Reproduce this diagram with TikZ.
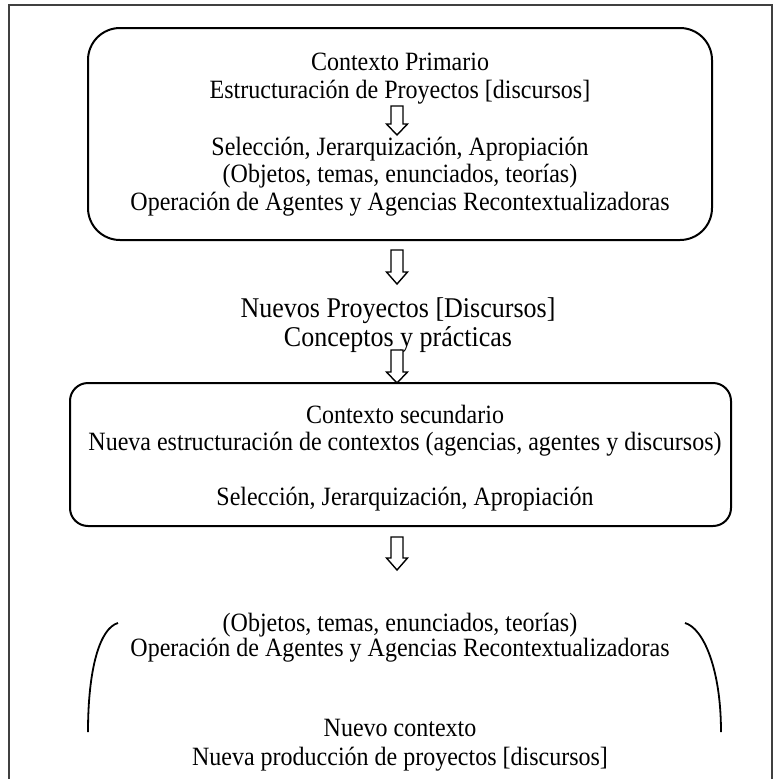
\documentclass[tikz,border=0pt]{standalone}
\usepackage{fontspec}
\setmainfont{Liberation Serif}
\newcommand{\tall}[1]{\scalebox{1}[1.1]{#1}}
\begin{document}
\begin{tikzpicture}[x=1pt,y=-1pt,
  txt/.style={anchor=base,inner sep=0pt,font=\fontsize{24}{28}\selectfont},
  bigtxt/.style={anchor=base,inner sep=0pt,font=\fontsize{26}{30}\selectfont},
  boxline/.style={line width=2pt,black},
  frameline/.style={line width=1.6pt,black!75},
  blockarrow/.style={line width=1.4pt,black,fill=white},
  bracketline/.style={line width=1.8pt,black}]
\useasboundingbox (0,0) rectangle (777,779);
% outer frame
\draw[frameline] (9,779) -- (9,5) -- (772,5) -- (772,779);
% box 1
\draw[boxline,rounded corners=32pt] (88,28) rectangle (712,240);
\node[txt] (c1) at (400,70) {\tall{Contexto Primario}};
\node[txt] (c2) at (400,98) {\tall{Estructuración de Proyectos [discursos]}};
\node[txt] (c3) at (400,155) {\tall{Selección, Jerarquización, Apropiación}};
\node[txt] (c4) at (400,182) {\tall{(Objetos, temas, enunciados, teorías)}};
\node[txt] (c5) at (400,210) {\tall{Operación de Agentes y Agencias Recontextualizadoras}};
% middle text
\node[bigtxt] (n1) at (398,317) {\tall{Nuevos Proyectos [Discursos]}};
\node[bigtxt] (n2) at (398,346) {\tall{Conceptos y prácticas}};
% box 2
\draw[boxline,rounded corners=18pt] (70,383) rectangle (731,526);
\node[txt] (s1) at (405,423) {\tall{Contexto secundario}};
\node[txt] (s2) at (405,450) {\tall{Nueva estructuración de contextos (agencias, agentes y discursos)}};
\node[txt] (s3) at (405,505) {\tall{Selección, Jerarquización, Apropiación}};
% bottom section
\node[txt] (b1) at (400,631) {\tall{(Objetos, temas, enunciados, teorías)}};
\node[txt] (b2) at (400,656) {\tall{Operación de Agentes y Agencias Recontextualizadoras}};
\node[txt] (b3) at (400,736) {\tall{Nuevo contexto}};
\node[txt] (b4) at (400,765) {\tall{Nueva producción de proyectos [discursos]}};
% brackets
\draw[bracketline] (118,623) .. controls (100,628) and (88,668) .. (88,732);
\draw[bracketline] (685,623) .. controls (703,628) and (721,668) .. (721,732);
% block arrows
\foreach \ax/\at/\ah/\ap in {397/106/124/135, 397/250/272/284, 397/350/372/383, 397/537/558/570}{
  \draw[blockarrow] (\ax-6,\at) -- (\ax+6,\at) -- (\ax+6,\ah) -- (\ax+10.5,\ah) -- (\ax,\ap) -- (\ax-10.5,\ah) -- (\ax-6,\ah) -- cycle;
}
\end{tikzpicture}
\end{document}
